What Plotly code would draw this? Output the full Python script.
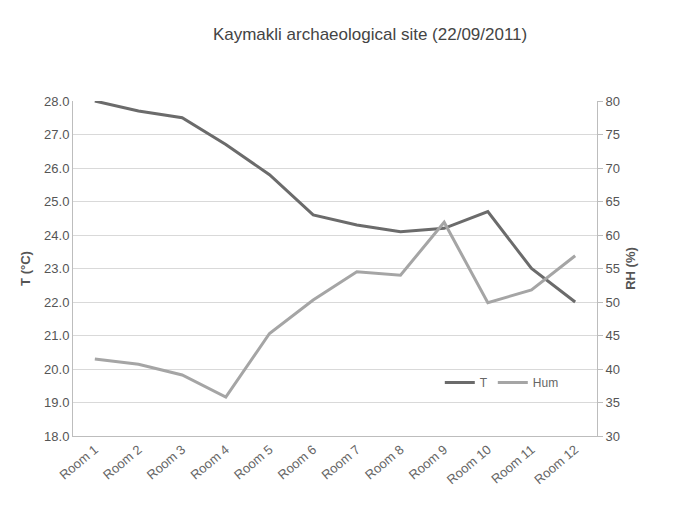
import plotly.graph_objects as go

rooms = [f"Room {i}" for i in range(1, 13)]
temperature = [28.0, 27.7, 27.5, 26.7, 25.8, 24.6, 24.3, 24.1, 24.2, 24.7, 23.0, 22.0]
humidity = [41.5, 40.7, 39.1, 35.8, 45.3, 50.3, 54.5, 54.0, 61.9, 49.9, 51.8, 56.9]

t_ticks = [18 + i for i in range(11)]
rh_ticks = [30 + 5 * i for i in range(11)]

font_family = "Liberation Sans, Arial, sans-serif"
text_color = "#555555"

fig = go.Figure()
fig.add_trace(go.Scatter(
    x=rooms, y=temperature, name="T", mode="lines",
    line=dict(color="#6b6b6b", width=3), yaxis="y"))
fig.add_trace(go.Scatter(
    x=rooms, y=humidity, name="Hum", mode="lines",
    line=dict(color="#a5a5a5", width=3), yaxis="y2"))

fig.update_layout(
    width=679, height=518,
    margin=dict(l=73, r=82, t=101, b=82),
    paper_bgcolor="white", plot_bgcolor="white",
    font=dict(family=font_family, color=text_color, size=13),
    title=dict(text="Kaymakli archaeological site (22/09/2011)",
               x=0.545, xanchor="center", y=0.935, yanchor="middle",
               font=dict(size=17, color="#444444")),
    xaxis=dict(
        type="category", tickangle=-40, showgrid=False,
        showline=True, linecolor="#bdbdbd", linewidth=1,
        ticks="", tickfont=dict(size=13, color="#666666"),
        range=[-0.5, 11.5]),
    yaxis=dict(
        range=[18, 28], tickvals=t_ticks,
        ticktext=[f"{v:.1f}" for v in t_ticks],
        showgrid=True, gridcolor="#d9d9d9", gridwidth=1,
        showline=True, linecolor="#bdbdbd", ticks="",
        zeroline=False,
        title=dict(text="<b>T (°C)</b>", standoff=10,
                   font=dict(size=13, color="#555555"))),
    yaxis2=dict(
        range=[30, 80], tickvals=rh_ticks, overlaying="y", side="right",
        showgrid=False, showline=True, linecolor="#bdbdbd",
        ticks="outside", ticklen=5, tickcolor="#bdbdbd",
        zeroline=False,
        title=dict(text="<b>RH (%)</b>", standoff=6,
                   font=dict(size=13, color="#555555"))),
    legend=dict(orientation="h", x=0.70, y=0.16, xanchor="left",
                yanchor="middle", bgcolor="rgba(0,0,0,0)",
                font=dict(size=12, color="#666666"),
                itemwidth=30),
    showlegend=True,
)

fig.write_html("out.html")
